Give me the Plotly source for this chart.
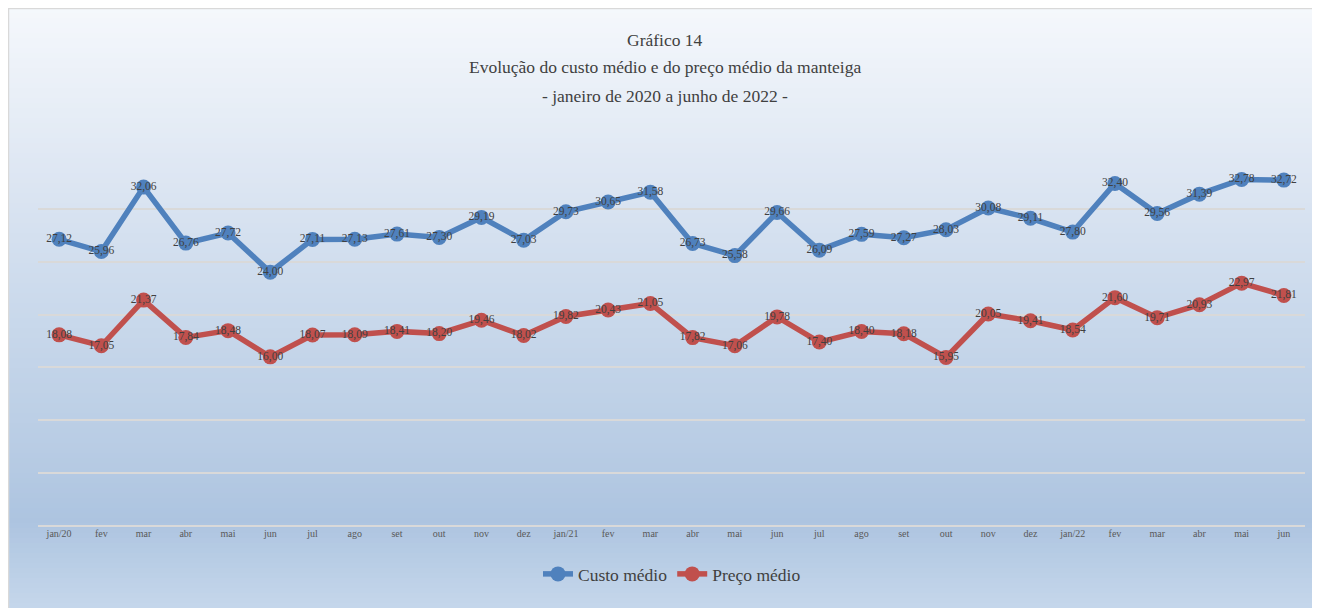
import plotly.graph_objects as go

meses = ["jan/20", "fev", "mar", "abr", "mai", "jun", "jul", "ago", "set", "out", "nov", "dez",
         "jan/21", "fev", "mar", "abr", "mai", "jun", "jul", "ago", "set", "out", "nov", "dez",
         "jan/22", "fev", "mar", "abr", "mai", "jun"]
custo_medio = [27.12, 25.96, 32.06, 26.76, 27.72, 24.00, 27.11, 27.13, 27.61, 27.30, 29.19, 27.03,
               29.73, 30.65, 31.58, 26.73, 25.58, 29.66, 26.09, 27.59, 27.27, 28.03, 30.08, 29.11,
               27.80, 32.40, 29.56, 31.39, 32.78, 32.72]
preco_medio = [18.08, 17.05, 21.37, 17.84, 18.48, 16.00, 18.07, 18.09, 18.41, 18.20, 19.46, 18.02,
               19.82, 20.43, 21.05, 17.82, 17.06, 19.78, 17.40, 18.40, 18.18, 15.95, 20.05, 19.41,
               18.54, 21.60, 19.71, 20.93, 22.97, 21.81]
titulo = ["Gráfico 14",
          "Evolução do custo médio e do preço médio da manteiga",
          "- janeiro de 2020 a junho de 2022 -"]

# page places the figure 8px from the top-left corner
O = 8
W, H = 1320 - O, 608 - O
L, R, T, B = 38 - O, 15, 156 - O, 82
PW, PH = W - L - R, H - T - B

def px_x(px):
    return (px - O - L) / PW

def px_y(py):
    return (H - B - (py - O)) / PH

x = list(range(len(meses)))
FONT = "Liberation Serif"

fig = go.Figure()
fig.add_trace(go.Scatter(
    x=x, y=custo_medio, name="Custo médio", mode="lines+markers+text",
    line=dict(color="#4f81bd", width=5.5), marker=dict(color="#4f81bd", size=15),
    texttemplate="%{y:.2f}", textposition="middle center",
    textfont=dict(family=FONT, size=11.5, color="#404040")))
fig.add_trace(go.Scatter(
    x=x, y=preco_medio, name="Preço médio", mode="lines+markers+text",
    line=dict(color="#c0504d", width=5.5), marker=dict(color="#c0504d", size=15),
    texttemplate="%{y:.2f}", textposition="middle center",
    textfont=dict(family=FONT, size=11.5, color="#404040")))

def lerp(a, b, t):
    return tuple(round(a[i] + (b[i] - a[i]) * t) for i in range(3))

stops = [(6, (245, 248, 252)), (150, (225, 233, 244)), (300, (203, 218, 236)),
         (450, (184, 204, 228)), (520, (173, 196, 224)), (608, (197, 215, 235))]
shapes = []
top, bot = O, 608
n = 120
step = (bot - top) / n
for i in range(n):
    y0 = top + i * step
    y1 = y0 + step + 0.6
    ym = y0 + step / 2
    c = stops[-1][1]
    for j in range(len(stops) - 1):
        if stops[j][0] <= ym <= stops[j + 1][0]:
            t = (ym - stops[j][0]) / (stops[j + 1][0] - stops[j][0])
            c = lerp(stops[j][1], stops[j + 1][1], t)
            break
    shapes.append(dict(type="rect", xref="paper", yref="paper", layer="below",
                       x0=px_x(O), x1=px_x(1316), y0=px_y(y1), y1=px_y(y0),
                       fillcolor="rgb(%d,%d,%d)" % c, line=dict(width=0)))
shapes.append(dict(type="rect", xref="paper", yref="paper", layer="below",
                   x0=px_x(O + 0.5), x1=px_x(1316), y0=px_y(610), y1=px_y(O + 0.5),
                   fillcolor="rgba(0,0,0,0)", line=dict(color="#d9d9d9", width=1.5)))

annotations = []
for txt, py in zip(titulo, [40, 67, 96]):
    annotations.append(dict(text=txt, xref="paper", yref="paper", x=px_x(665), y=px_y(py),
                            xanchor="center", yanchor="middle", showarrow=False,
                            font=dict(family=FONT, size=17.5, color="#404040")))

fig.update_layout(
    width=W, height=H, margin=dict(l=L, r=R, t=T, b=B),
    paper_bgcolor="white", plot_bgcolor="rgba(0,0,0,0)",
    font=dict(family=FONT, color="#404040"),
    separators=",.",
    shapes=shapes, annotations=annotations,
    showlegend=True,
    legend=dict(orientation="h", x=px_x(672), xanchor="center", y=px_y(574), yanchor="middle",
                font=dict(family=FONT, size=17.5, color="#404040"),
                bgcolor="rgba(0,0,0,0)"),
    xaxis=dict(tickmode="array", tickvals=x, ticktext=meses, range=[-0.5, len(meses) - 0.5],
               showgrid=False, zeroline=False, showline=False, ticks="",
               tickfont=dict(family=FONT, size=10, color="#595959")),
    yaxis=dict(range=[0, 35], dtick=5, showticklabels=False, showgrid=True,
               gridcolor="#d9d9d9", gridwidth=1.5, zeroline=True, zerolinecolor="#d9d9d9",
               zerolinewidth=2, showline=False),
)

fig.write_html("out.html")
